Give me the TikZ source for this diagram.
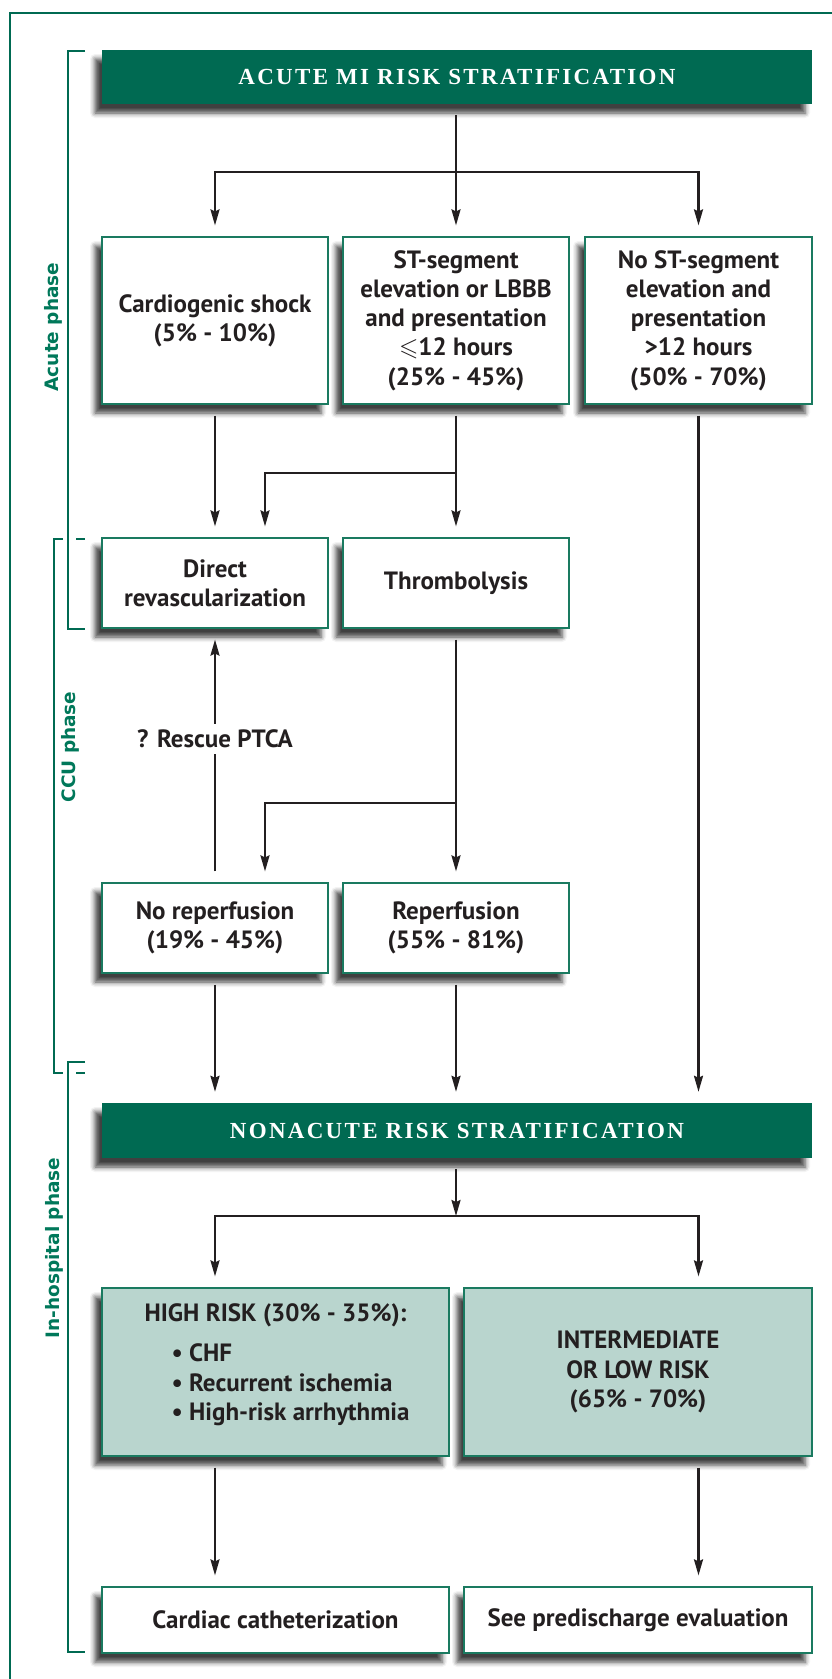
\documentclass[tikz,border=0pt]{standalone}
\usepackage{fontspec}
\usepackage{amssymb}
\setmainfont{PT Sans}
\newfontfamily\titlefont{Liberation Serif}[LetterSpace=10]
\newfontfamily\phasefont{DejaVu Sans}
\usetikzlibrary{arrows.meta,shadows.blur}
\definecolor{dkgreen}{HTML}{006A52}
\definecolor{lgreen}{HTML}{B9D5CE}
\definecolor{edgegreen}{HTML}{1A7A60}
\definecolor{phasegreen}{HTML}{00785A}
\definecolor{ink}{HTML}{231F20}
\begin{document}
\begin{tikzpicture}[x=1pt,y=-1pt,
  shadowed/.style={blur shadow={shadow xshift=-7pt,shadow yshift=-9pt,shadow blur radius=5pt,shadow opacity=75}},
  box/.style={shadowed,draw=edgegreen,line width=1.2pt,fill=white,minimum width=226pt,inner sep=0pt,align=center,text=ink,font=\bfseries\fontsize{25}{29.3}\selectfont},
  hbox/.style={box,fill=lgreen,minimum width=347pt,minimum height=168pt},
  ebox/.style={box,minimum width=347pt,minimum height=66pt},
  headbox/.style={shadowed,fill=dkgreen,draw=none,minimum width=710pt,inner sep=0pt,text=white,font=\titlefont\bfseries\fontsize{23}{26}\selectfont},
  arr/.style={draw=ink,line width=2.2pt,shorten <=11pt,shorten >=11pt,-{Stealth[length=16pt,width=9pt,inset=2pt]}},
  brk/.style={draw=dkgreen,line width=2.3pt},
  phase/.style={rotate=90,text=phasegreen,inner sep=0pt,font=\phasefont\bfseries\fontsize{18.5}{22}\selectfont}
]
\useasboundingbox (0,0) rectangle (832,1679);
% outer frame
\draw[draw=dkgreen,line width=2pt] (10,1690) -- (10,13) -- (845,13);
% phase brackets
\draw[brk] (85,50.7) -- (68,50.7) -- (68,629) -- (85,629);
\draw[brk] (63,539) -- (54,539) -- (54,1073.3) -- (63,1073.3);
\draw[brk] (76,539) -- (85,539);
\draw[brk] (76,1073.3) -- (85,1073.3);
\draw[brk] (85,1061.7) -- (68,1061.7) -- (68,1652) -- (85,1652);
\node[phase] (pa) at (53,327) {Acute phase};
\node[phase] (pc) at (70,747) {CCU phase};
\node[phase] (ph) at (54,1248) {In-hospital phase};
% nodes
\node[headbox,minimum height=54pt] (title) at (457,77) {ACUTE MI RISK STRATIFICATION};
\node[box,minimum height=167pt] (c1) at (215,320.5) {Cardiogenic shock\\(5\% - 10\%)};
\node[box,minimum height=167pt] (c2) at (456,320.5) {ST-segment\\elevation or LBBB\\and presentation\\$\leqslant$12 hours\\(25\% - 45\%)};
\node[box,minimum height=167pt,minimum width=227pt] (c3) at (698.5,320.5) {No ST-segment\\elevation and\\presentation\\>12 hours\\(50\% - 70\%)};
\node[box,minimum height=90pt] (d1) at (215,583) {Direct\\revascularization};
\node[box,minimum height=90pt] (d2) at (456,583) {Thrombolysis};
\node[box,minimum height=90pt] (r1) at (215,928) {No reperfusion\\(19\% - 45\%)};
\node[box,minimum height=90pt] (r2) at (456,928) {Reperfusion\\(55\% - 81\%)};
\node[headbox,minimum height=55pt] (na) at (457,1130.5) {NONACUTE RISK STRATIFICATION};
\node[hbox] (h1) at (275.5,1372) {\raisebox{7pt}[\height][\depth]{\begin{tabular}{@{}c@{}}HIGH RISK (30\% - 35\%):\\[11pt]\hspace*{30pt}\begin{tabular}{@{}l@{}}\textbullet\ CHF\\ \textbullet\ Recurrent ischemia\\ \textbullet\ High-risk arrhythmia\end{tabular}\end{tabular}}};
\node[hbox,minimum width=348pt] (h2) at (638,1372) {INTERMEDIATE\\OR LOW RISK\\(65\% - 70\%)};
\node[ebox] (e1) at (275.5,1620) {Cardiac catheterization};
\node[ebox,minimum width=348pt] (e2) at (638,1620) {See predischarge evaluation};
% branch points
\coordinate (b1) at (456,171.7);
\coordinate (b2) at (456,473.3);
\coordinate (b3) at (456,803.3);
\coordinate (b4) at (456,1216);
% connectors
\draw[arr] (title.south -| c2) -- (c2.north);
\draw[arr,shorten <=0pt] (b1) -| (c1.north);
\draw[arr,shorten <=0pt] (b1) -| (c3.north);
\draw[arr] (c1.south) -- (d1.north);
\draw[arr] (c2.south) -- (d2.north);
\draw[arr,shorten <=0pt] (b2) -| ([xshift=50pt]d1.north);
\draw[arr] (c3.south) -- (na.north -| c3);
\draw[arr] (r1.north) -- node[pos=0.565,fill=white,inner xsep=2pt,inner ysep=6pt,text=ink,font=\bfseries\fontsize{25}{29.3}\selectfont] (rp) {? Rescue PTCA} (d1.south);
\draw[arr] (d2.south) -- (r2.north);
\draw[arr,shorten <=0pt] (b3) -| ([xshift=50pt]r1.north);
\draw[arr] (r1.south) -- (na.north -| r1);
\draw[arr] (r2.south) -- (na.north -| r2);
\draw[arr,shorten >=0pt] (na.south -| c2) -- (b4);
\draw[arr,shorten <=0pt] (b4) -| (h1.north -| c1);
\draw[arr,shorten <=0pt] (b4) -| (h2.north -| c3);
\draw[arr] (h1.south -| c1) -- (e1.north -| c1);
\draw[arr] (h2.south -| c3) -- (e2.north -| c3);
\end{tikzpicture}
\end{document}
